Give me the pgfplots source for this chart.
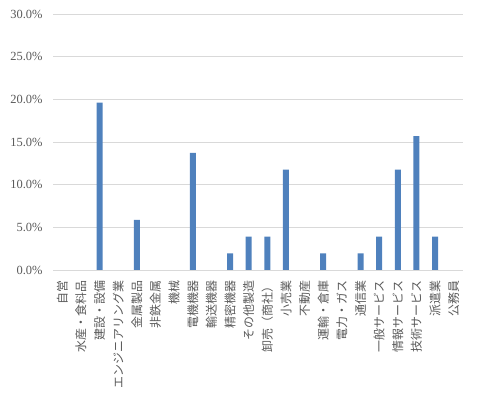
\documentclass[border=0pt]{standalone}
\usepackage{pgfplots}
\pgfplotsset{compat=1.18}
\usepackage{fontspec}
\setmainfont{Liberation Serif}
\newfontfamily\cjk{Noto Sans CJK JP}
\definecolor{barblue}{HTML}{4F81BD}
\definecolor{gridgray}{HTML}{D9D9D9}
\definecolor{txtgray}{HTML}{595959}
\begin{document}
\begin{tikzpicture}
\path[use as bounding box] (0,0) rectangle (478bp,395bp);
\begin{axis}[
  at={(53bp,125bp)}, anchor=south west,
  scale only axis, width=410bp, height=256bp,
  xmin=-0.5, xmax=21.5, ymin=0, ymax=30,
  ytick={0,5,...,30},
  xtick={0,...,21},
  xticklabels={自営,水産・食料品,建設・設備,エンジニアリング業,金属製品,非鉄金属,機械,電機機器,輸送機器,精密機器,その他製造,卸売（商社）,小売業,不動産,運輸・倉庫,電力・ガス,通信業,一般サービス,情報サービス,技術サービス,派遣業,公務員},
  x tick label style={rotate=90, anchor=east, font=\cjk\fontsize{12}{12}\selectfont, text=txtgray, xshift=-7bp},
  y tick label style={font=\fontsize{12.5}{13}\selectfont, text=txtgray, xshift=-7bp},
  /pgf/number format/assume math mode=true,
  yticklabel={\pgfmathprintnumber[fixed,fixed zerofill,precision=1]{\tick}\%},
  major tick length=0pt,
  axis line style={draw=none},
  ymajorgrids, grid style={gridgray, line width=0.8pt},
  ybar, bar width=6bp,
]
\addplot[fill=barblue, draw=none] coordinates {
(0,0) (1,0) (2,19.61) (3,0) (4,5.88) (5,0) (6,0) (7,13.73) (8,0) (9,1.96) (10,3.92) (11,3.92) (12,11.76) (13,0) (14,1.96) (15,0) (16,1.96) (17,3.92) (18,11.76) (19,15.69) (20,3.92) (21,0)
};
\end{axis}
\end{tikzpicture}
\end{document}
